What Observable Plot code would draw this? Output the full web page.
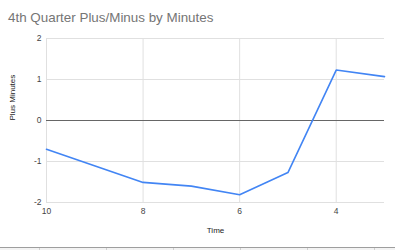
<!DOCTYPE html>
<html>
<head>
<meta charset="utf-8">
<script src="https://cdn.jsdelivr.net/npm/d3@7"></script>
<script src="https://cdn.jsdelivr.net/npm/@observablehq/plot@0.6"></script>
<style>
  html, body { margin: 0; padding: 0; background: #fff; }
  #page { position: relative; width: 395px; height: 250px; overflow: hidden; font-family: "Liberation Sans", Arial, sans-serif; }
  #title { height: 30px; box-sizing: border-box; padding: 10px 0 0 8px; font-size: 13.4px; line-height: 15px; color: #757575; }
  #chart svg { display: block; }
  #sheet { position: absolute; left: 0; top: 247px; width: 395px; height: 3px; border-top: 1px solid #9e9e9e; background: #f3f3f3; }
  #sheet span { position: absolute; top: 0; width: 1px; height: 3px; background: #d0d0d0; }
</style>
</head>
<body>
<div id="page">
  <div id="title">4th Quarter Plus/Minus by Minutes</div>
  <div id="chart"></div>
  <div id="sheet"></div>
</div>
<script>
// Minutes remaining in the 4th quarter and the plus/minus at each minute
const minutes = [10, 8, 7, 6, 5, 4, 3];
const plusMinus = [-0.7, -1.51, -1.6, -1.81, -1.27, 1.23, 1.07];
const xTicks = [10, 8, 6, 4];
const yTicks = [-2, -1, 0, 1, 2];

const rows = minutes.map((m, i) => ({minute: m, value: plusMinus[i]}));

const gridColor = "#e0e0e0";
const tickColor = "#444";
const plainNumber = d => String(d);

const chart = Plot.plot({
  width: 395,
  height: 220,
  marginLeft: 46,
  marginRight: 11,
  marginTop: 8,
  marginBottom: 48,
  style: {fontFamily: "'Liberation Sans', Arial, sans-serif", background: "#fff"},
  x: {domain: [10, 3], ticks: xTicks},
  y: {domain: [-2, 2], ticks: yTicks},
  marks: [
    Plot.gridX(xTicks, {stroke: gridColor, strokeOpacity: 1}),
    Plot.gridY(yTicks.filter(t => t !== 0), {stroke: gridColor, strokeOpacity: 1}),
    Plot.ruleY([0], {stroke: "#666", strokeWidth: 1}),
    Plot.axisX(xTicks, {tickSize: 0, tickPadding: 5, fontSize: 8.5, fill: tickColor, label: null, tickFormat: plainNumber}),
    Plot.axisY(yTicks, {tickSize: 0, tickPadding: 5, fontSize: 8.5, fill: tickColor, label: null, tickFormat: plainNumber}),
    Plot.line(rows, {x: "minute", y: "value", stroke: "#4285f4", strokeWidth: 1.6}),
    Plot.text(["Time"], {frameAnchor: "bottom", dy: 30, fontSize: 8, fill: "#222"}),
    Plot.text(["Plus Minutes"], {frameAnchor: "left", dx: -34, rotate: -90, fontSize: 8, fill: "#222"})
  ]
});
document.getElementById("chart").appendChild(chart);

// spreadsheet row separators beneath the chart
const sheet = document.getElementById("sheet");
[39, 106, 173, 240, 307, 374].forEach(x => {
  const s = document.createElement("span");
  s.style.left = x + "px";
  sheet.appendChild(s);
});
</script>
</body>
</html>
